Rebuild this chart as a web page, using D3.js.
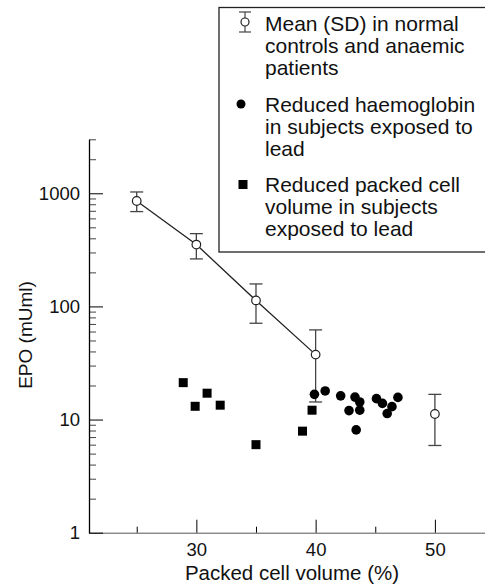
<!DOCTYPE html>
<html>
<head>
<meta charset="utf-8">
<script src="https://cdn.jsdelivr.net/npm/d3@7"></script>
<style>
  body { margin: 0; background: #fff; }
  svg { font-family: "Liberation Sans", Arial, sans-serif; }
</style>
</head>
<body>
<svg id="drawing_region" width="485" height="585"></svg>
<script>
// mean (SD) in normal controls and anaemic patients
const meanPcv   = [25, 30, 35, 40, 50];
const meanEpo   = [855, 352, 113, 37.5, 11.2];
const sdHigh    = [1027, 440, 158, 62, 16.7];
const sdLow     = [689, 263, 71, 14.3, 5.9];
const lineCount = 4; // line joins the first four means

// reduced haemoglobin, lead exposed
const hbPcv = [39.9, 40.8, 42.1, 43.3, 43.7, 42.8, 43.7, 43.4, 45.1, 45.6, 46.9, 46.4, 46.0];
const hbEpo = [16.7, 17.9, 16.2, 15.8, 14.3, 12.0, 12.1, 8.1, 15.3, 13.9, 15.7, 13.0, 11.3];

// reduced packed cell volume, lead exposed
const pcvPcv = [28.9, 30.9, 29.9, 32.0, 39.7, 38.9, 35.0];
const pcvEpo = [21.2, 17.1, 13.1, 13.4, 12.1, 7.9, 6.0];

const xMajor = [30, 40, 50];
const xMinor = [25, 35, 45];
const yMajor = [1, 10, 100, 1000];

const legendItems = [
  ["Mean (SD) in normal", "controls and anaemic", "patients"],
  ["Reduced haemoglobin", "in subjects exposed to", "lead"],
  ["Reduced packed cell", "volume in subjects", "exposed to lead"]
];

const svg = d3.select('#drawing_region');

const x = d3.scaleLinear().domain([21, 54.2]).range([89, 485]);
const y = d3.scaleLog().domain([1, 3000]).range([532.7, 139.3]);

// minor y ticks 2..9 per decade
let yMinor = [];
[1, 10, 100, 1000].forEach(d => {
  for (let k = 2; k <= 9; k++) if (d * k <= 3000) yMinor.push(d * k);
});

// axes
svg.append('g')
  .attr('transform', 'translate(0,532.7)')
  .call(d3.axisBottom(x).tickValues(xMinor).tickSize(-6).tickFormat(''))
  .call(g => g.select('.domain').attr('stroke', '#555'));

svg.append('g')
  .attr('transform', 'translate(0,532.7)')
  .call(d3.axisBottom(x).tickValues(xMajor).tickSize(-13).tickPadding(10).tickSizeOuter(0))
  .call(g => g.select('.domain').remove())
  .call(g => g.selectAll('text').attr('font-size', 18.5).attr('fill', '#111')
          .attr('font-family', '"Liberation Sans", Arial, sans-serif'));

svg.append('g')
  .attr('transform', 'translate(89,0)')
  .call(d3.axisLeft(y).tickValues(yMinor).tickSize(-7).tickFormat('').tickSizeOuter(0))
  .call(g => g.select('.domain').remove())
  .call(g => g.selectAll('line').attr('stroke', '#444'));

svg.append('g')
  .attr('transform', 'translate(89,0)')
  .call(d3.axisLeft(y).tickValues(yMajor).tickSize(-14).tickPadding(9).tickFormat(d3.format('d')).tickSizeOuter(0))
  .call(g => g.select('.domain').attr('stroke-width', 1.3))
  .call(g => g.selectAll('text').attr('font-size', 18.5).attr('fill', '#111')
          .attr('font-family', '"Liberation Sans", Arial, sans-serif'));

// axis titles
svg.append('text')
  .attr('x', 292)
  .attr('y', 580)
  .attr('text-anchor', 'middle')
  .attr('font-size', 20.5)
  .attr('fill', '#111')
  .text('Packed cell volume (%)');

svg.append('text')
  .attr('transform', `translate(32,335) rotate(-90)`)
  .attr('text-anchor', 'middle')
  .attr('font-size', 19)
  .attr('fill', '#111')
  .text('EPO (mUml)');

// mean line
const meanData = meanPcv.map((d, i) => ({ pcv: d, epo: meanEpo[i], hi: sdHigh[i], lo: sdLow[i] }));

svg.append('path')
  .datum(meanData.slice(0, lineCount))
  .attr('fill', 'none')
  .attr('stroke', '#222')
  .attr('stroke-width', 1.3)
  .attr('d', d3.line().x(d => x(d.pcv)).y(d => y(d.epo)));

// error bars
const eb = svg.append('g').selectAll('g').data(meanData).join('g');
eb.append('line')
  .attr('x1', d => x(d.pcv)).attr('x2', d => x(d.pcv))
  .attr('y1', d => y(d.hi)).attr('y2', d => y(d.lo))
  .attr('stroke', '#444').attr('stroke-width', 1.3);
eb.selectAll('line.cap').data(d => [d.hi, d.lo].map(v => ({ pcv: d.pcv, v: v })))
  .join('line').attr('class', 'cap')
  .attr('x1', d => x(d.pcv) - 6.5).attr('x2', d => x(d.pcv) + 6.5)
  .attr('y1', d => y(d.v)).attr('y2', d => y(d.v))
  .attr('stroke', '#444').attr('stroke-width', 1.3);

// haemoglobin points
svg.append('g').selectAll('circle')
  .data(hbPcv.map((d, i) => [d, hbEpo[i]]))
  .join('circle')
  .attr('cx', d => x(d[0])).attr('cy', d => y(d[1]))
  .attr('r', 4.8).attr('fill', '#000');

// packed cell volume points
const s = 9;
svg.append('g').selectAll('rect')
  .data(pcvPcv.map((d, i) => [d, pcvEpo[i]]))
  .join('rect')
  .attr('x', d => x(d[0]) - s / 2).attr('y', d => y(d[1]) - s / 2)
  .attr('width', s).attr('height', s).attr('fill', '#000');

// open circles on top
svg.append('g').selectAll('circle')
  .data(meanData)
  .join('circle')
  .attr('cx', d => x(d.pcv)).attr('cy', d => y(d.epo))
  .attr('r', 4.3).attr('fill', '#fff')
  .attr('stroke', '#222').attr('stroke-width', 1.2);

// legend
const lg = svg.append('g');
lg.append('rect')
  .attr('x', 219).attr('y', 7.5).attr('width', 280).attr('height', 244.5)
  .attr('fill', '#fff').attr('stroke', '#222').attr('stroke-width', 1.3);

const lineH = 22;
const groupY = [31, 111.5, 192];
legendItems.forEach((lines, i) => {
  lines.forEach((t, j) => {
    lg.append('text')
      .attr('x', 265).attr('y', groupY[i] + j * lineH)
      .attr('font-size', 21).attr('fill', '#111')
      .text(t);
  });
});

// legend symbols
const symX = 245;
lg.append('line').attr('x1', symX).attr('x2', symX).attr('y1', 12).attr('y2', 32).attr('stroke', '#444').attr('stroke-width', 1.2);
[12, 32].forEach(v => lg.append('line').attr('x1', symX - 6).attr('x2', symX + 6).attr('y1', v).attr('y2', v).attr('stroke', '#444').attr('stroke-width', 1.2));
lg.append('circle').attr('cx', symX).attr('cy', 22).attr('r', 4).attr('fill', '#fff').attr('stroke', '#222').attr('stroke-width', 1.2);
lg.append('circle').attr('cx', symX - 4).attr('cy', 104).attr('r', 4.5).attr('fill', '#000');
lg.append('rect').attr('x', symX - 6.5).attr('y', 180).attr('width', 9).attr('height', 9).attr('fill', '#000');
</script>
</body>
</html>
